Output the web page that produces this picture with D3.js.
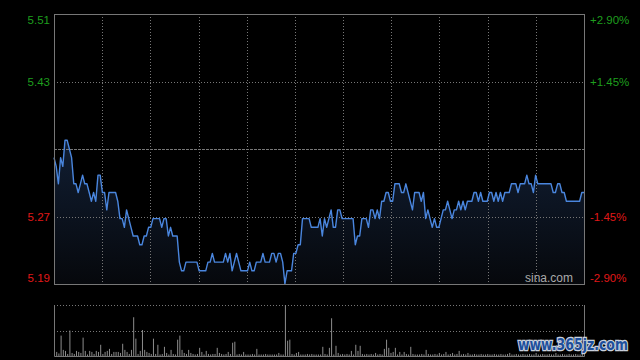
<!DOCTYPE html>
<html>
<head>
<meta charset="utf-8">
<script src="https://cdn.jsdelivr.net/npm/d3@7"></script>
<style>
  html, body { margin: 0; padding: 0; background: #000; }
  svg { display: block; }
</style>
</head>
<body>
<svg id="chart" width="640" height="360"></svg>
<script>
// intraday minute prices, prev close 5.35
var prevClose = 5.35
var prices = [
    5.34,5.33,5.31,5.34,5.33,5.36,5.36,5.35,5.34,5.31,
    5.31,5.30,5.31,5.32,5.31,5.31,5.30,5.29,5.30,5.29,
    5.32,5.32,5.30,5.30,5.28,5.30,5.30,5.30,5.30,5.29,
    5.27,5.27,5.26,5.28,5.27,5.26,5.25,5.25,5.25,5.24,
    5.24,5.25,5.25,5.26,5.26,5.27,5.27,5.27,5.27,5.26,
    5.27,5.27,5.25,5.26,5.25,5.25,5.25,5.22,5.21,5.21,
    5.22,5.22,5.22,5.22,5.22,5.22,5.21,5.21,5.21,5.21,
    5.22,5.22,5.23,5.22,5.22,5.22,5.22,5.22,5.23,5.22,
    5.23,5.21,5.22,5.23,5.22,5.21,5.21,5.21,5.21,5.22,
    5.21,5.21,5.22,5.22,5.22,5.23,5.22,5.22,5.22,5.23,
    5.23,5.22,5.23,5.23,5.22,5.195,5.21,5.21,5.21,5.23,
    5.23,5.24,5.24,5.27,5.27,5.27,5.27,5.26,5.26,5.26,
    5.26,5.27,5.25,5.27,5.26,5.27,5.28,5.26,5.26,5.28,
    5.28,5.27,5.27,5.27,5.27,5.27,5.27,5.24,5.25,5.25,
    5.27,5.27,5.27,5.26,5.28,5.28,5.27,5.28,5.27,5.29,
    5.29,5.30,5.30,5.29,5.29,5.31,5.31,5.31,5.30,5.30,
    5.31,5.30,5.29,5.28,5.30,5.30,5.30,5.29,5.30,5.27,
    5.28,5.27,5.26,5.27,5.26,5.26,5.27,5.28,5.28,5.29,
    5.28,5.27,5.28,5.28,5.29,5.28,5.29,5.28,5.29,5.29,
    5.29,5.30,5.30,5.29,5.30,5.29,5.29,5.29,5.30,5.30,
    5.29,5.30,5.29,5.30,5.29,5.30,5.30,5.30,5.31,5.31,
    5.31,5.30,5.31,5.31,5.31,5.32,5.31,5.31,5.30,5.32,
    5.31,5.31,5.31,5.31,5.31,5.31,5.31,5.30,5.30,5.31,
    5.31,5.30,5.30,5.29,5.29,5.29,5.29,5.29,5.29,5.29,
    5.30,5.30
]
// minute volumes (relative)
var volumes = [
    28,8,5,40,12,10,4,50,6,4,
    10,8,6,36,10,3,10,8,4,10,
    8,22,4,8,10,14,4,8,8,8,
    6,24,12,8,4,12,76,34,4,10,
    51,12,8,6,4,34,4,22,3,4,
    18,6,3,12,4,3,32,40,12,6,
    4,12,6,4,3,4,16,8,3,10,
    4,3,4,4,16,6,4,3,4,8,
    4,26,28,3,4,3,8,3,3,3,
    4,3,14,3,3,3,4,3,3,3,
    3,3,6,3,3,100,30,32,4,3,
    6,8,3,3,3,4,3,4,3,3,
    3,3,18,4,3,16,74,3,20,6,
    3,4,3,4,3,10,3,22,10,20,
    4,3,4,3,4,3,6,3,4,3,
    14,32,16,6,8,16,3,8,3,8,
    4,3,18,4,3,3,3,4,3,12,
    4,3,3,4,3,6,3,4,8,3,
    4,6,3,4,10,3,4,3,6,3,
    3,4,3,3,4,3,3,4,3,3,
    4,3,3,4,3,3,4,6,3,3,
    4,3,3,4,3,3,4,3,3,6,
    3,3,4,3,3,4,3,3,6,3,
    3,4,3,3,4,3,3,4,3,3,
    4,6
]
var pctTicks = [0.029, 0.0145, -0.0145, -0.029]
var priceLabels = ["5.51", "5.43", "5.27", "5.19"]
var pctLabels = ["+2.90%", "+1.45%", "-1.45%", "-2.90%"]

var svg = d3.select("#chart")
var plotL = 54, plotR = 584, plotT = 14, plotB = 284
var volT = 305, volB = 356

var x = d3.scaleLinear().domain([0, prices.length - 1]).range([plotL, plotR])
var y = d3.scaleLinear().domain([-0.029, 0.029]).range([plotB, plotT])
var xGrid = d3.scaleLinear().domain([0, 11]).range([plotL, plotR])
var yVol = d3.scaleLinear().domain([0, d3.max(volumes)]).range([volB, volT])

function pct(p) { return (p - prevClose) / prevClose }

// gradient under the line
var defs = svg.append("defs")
var grad = defs.append("linearGradient")
    .attr("id", "areaFill")
    .attr("gradientUnits", "userSpaceOnUse")
    .attr("x1", 0).attr("y1", y(pct(5.36)))
    .attr("x2", 0).attr("y2", plotB)
grad.append("stop").attr("offset", "0%").attr("stop-color", "#111e33")
grad.append("stop").attr("offset", "100%").attr("stop-color", "#06080c")

var area = d3.area()
    .x(function (d, i) { return x(i) })
    .y0(plotB)
    .y1(function (d) { return y(pct(d)) })
svg.append("path")
    .datum(prices)
    .attr("d", area)
    .attr("fill", "url(#areaFill)")

// grid
var grid = svg.append("g").attr("stroke", "#777").attr("stroke-width", 1)
grid.selectAll("line.v")
    .data(d3.range(1, 11))
    .enter().append("line")
    .attr("x1", function (d) { return Math.round(xGrid(d)) + 0.5 })
    .attr("x2", function (d) { return Math.round(xGrid(d)) + 0.5 })
    .attr("y1", plotT).attr("y2", plotB)
    .attr("stroke-dasharray", "1,2")
grid.selectAll("line.h")
    .data([0.0145, -0.0145])
    .enter().append("line")
    .attr("x1", plotL).attr("x2", plotR)
    .attr("y1", function (d) { return Math.round(y(d)) + 0.5 })
    .attr("y2", function (d) { return Math.round(y(d)) + 0.5 })
    .attr("stroke-dasharray", "1,2")
// prev close line
svg.append("line")
    .attr("x1", plotL).attr("x2", plotR)
    .attr("y1", Math.round(y(0)) + 0.5).attr("y2", Math.round(y(0)) + 0.5)
    .attr("stroke", "#777")
    .attr("stroke-dasharray", "3,1")

// price line
var line = d3.line()
    .x(function (d, i) { return x(i) })
    .y(function (d) { return y(pct(d)) })
svg.append("path")
    .datum(prices)
    .attr("d", line)
    .attr("fill", "none")
    .attr("stroke", "#4a86de")
    .attr("stroke-width", 1.4)
    .attr("stroke-linejoin", "round")

// frame
svg.append("rect")
    .attr("x", plotL + 0.5).attr("y", plotT + 0.5)
    .attr("width", plotR - plotL).attr("height", plotB - plotT)
    .attr("fill", "none").attr("stroke", "#777")

// axis labels
svg.selectAll("text.lp")
    .data(pctTicks)
    .enter().append("text")
    .attr("x", 50)
    .attr("y", function (d, i) { return y(d) + (i === 0 ? 6 : i === 3 ? -6 : 0) })
    .attr("dy", "0.35em")
    .attr("text-anchor", "end")
    .attr("font-family", "Liberation Sans, Arial, sans-serif")
    .attr("font-size", 11.5)
    .attr("fill", function (d) { return d > 0 ? "#1e9e1e" : "#e01818" })
    .text(function (d, i) { return priceLabels[i] })
svg.selectAll("text.rp")
    .data(pctTicks)
    .enter().append("text")
    .attr("x", 590)
    .attr("y", function (d, i) { return y(d) + (i === 0 ? 6 : i === 3 ? -6 : 0) })
    .attr("dy", "0.35em")
    .attr("font-family", "Liberation Sans, Arial, sans-serif")
    .attr("font-size", 11.5)
    .attr("fill", function (d) { return d > 0 ? "#1e9e1e" : "#e01818" })
    .text(function (d, i) { return pctLabels[i] })

svg.append("text")
    .attr("x", 573).attr("y", 282)
    .attr("text-anchor", "end")
    .attr("font-family", "Liberation Sans, Arial, sans-serif")
    .attr("font-size", 12)
    .attr("fill", "#aaa")
    .text("sina.com")

// volume panel
var vg = svg.append("g")
vg.selectAll("line.vh")
    .data([volT, (volT + volB) / 2])
    .enter().append("line")
    .attr("x1", plotL).attr("x2", plotR)
    .attr("y1", function (d) { return Math.round(d) + 0.5 })
    .attr("y2", function (d) { return Math.round(d) + 0.5 })
    .attr("stroke", "#777")
    .attr("stroke-dasharray", "1,2")
vg.selectAll("rect.bar")
    .data(volumes)
    .enter().append("rect")
    .attr("x", function (d, i) { return x(i) })
    .attr("width", 1)
    .attr("y", function (d) { return yVol(d) })
    .attr("height", function (d) { return volB - yVol(d) })
    .attr("fill", "#8c8c8c")
vg.append("path")
    .attr("d", "M" + (plotL + 0.5) + "," + volT + "V" + (volB + 0.5) + "H" + (plotR + 0.5) + "V" + volT)
    .attr("fill", "none")
    .attr("stroke", "#777")

// watermark (stretched vertically)
svg.append("text")
    .attr("transform", "translate(518,350) scale(1,1.3)")
    .attr("font-family", "DejaVu Sans, sans-serif")
    .attr("font-weight", "bold")
    .attr("font-size", 12.5)
    .attr("fill", "#1d4f9c")
    .attr("stroke", "#c8d0dc")
    .attr("stroke-width", 2)
    .attr("paint-order", "stroke")
    .text("www.365jz.com")
</script>
</body>
</html>
